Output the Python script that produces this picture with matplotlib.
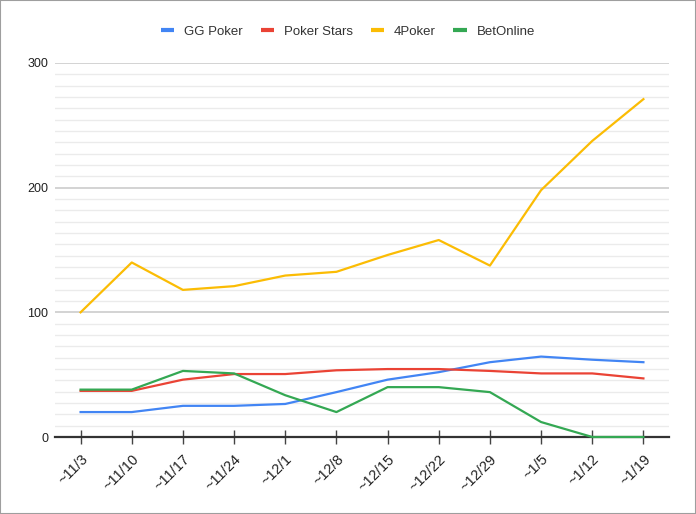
import matplotlib.pyplot as plt
from matplotlib.patches import Rectangle

weeks = ["~11/3", "~11/10", "~11/17", "~11/24", "~12/1", "~12/8",
         "~12/15", "~12/22", "~12/29", "~1/5", "~1/12", "~1/19"]
gg_poker = [20, 20, 25, 25, 26.5, 36, 46, 52, 60, 64.5, 62, 60]
poker_stars = [37, 37, 46, 50.5, 50.5, 53.5, 54.5, 54.5, 53, 51, 51, 47]
four_poker = [100, 140, 118, 121, 129.5, 132.5, 146, 158, 137.5, 198, 237.5, 271]
bet_online = [38, 38, 53, 51, 33.5, 20, 40, 40, 36, 12, 0, 0]

series = [
    ("GG Poker", gg_poker, "#4285F4"),
    ("Poker Stars", poker_stars, "#EA4335"),
    ("4Poker", four_poker, "#FBBC04"),
    ("BetOnline", bet_online, "#34A853"),
]

plt.rcParams["font.family"] = ["Liberation Sans", "DejaVu Sans"]

fig = plt.figure(figsize=(6.96, 5.14), dpi=100)
ax = fig.add_axes([55 / 696, (514 - 437) / 514, 614 / 696, 374 / 514])

x = list(range(len(weeks)))
for name, values, color in series:
    ax.plot(x, values, color=color, lw=1.6, label=name, zorder=3,
            clip_on=False)

ax.set_xlim(-0.5, len(weeks) - 0.5)
ax.set_ylim(0, 300)

# gridlines: majors every 100, 10 minor lines in between
ax.set_yticks([0, 100, 200, 300])
ax.set_yticks([m * 100 / 11 + k * 100 for k in range(3) for m in range(1, 11)],
              minor=True)
ax.grid(axis="y", which="major", color="#cccccc", lw=1.2, zorder=1)
ax.grid(axis="y", which="minor", color="#ebebeb", lw=1.0, zorder=1)
ax.tick_params(axis="y", which="both", length=0, labelsize=9, pad=5,
               labelcolor="#222222")

ax.set_xticks(x)
ax.set_xticklabels(weeks, rotation=45, ha="right", va="top",
                   rotation_mode="anchor", fontsize=10.5, color="#222222")
ax.tick_params(axis="x", direction="inout", length=10, width=1,
               color="#444444", pad=6)

for side in ["top", "right", "left"]:
    ax.spines[side].set_visible(False)
ax.spines["bottom"].set_color("#333333")
ax.spines["bottom"].set_linewidth(1.6)
ax.spines["bottom"].set_zorder(2.5)

leg = fig.legend(loc="center", bbox_to_anchor=(348 / 696, 1 - 32 / 514),
                 ncol=4, frameon=False, fontsize=9.5, handlelength=1.0,
                 handletextpad=0.75, columnspacing=1.35, labelcolor="#333333")
for line in leg.get_lines():
    line.set_linewidth(3)
    line.set_solid_capstyle("butt")

fig.patches.append(Rectangle((0, 0), 1, 1, transform=fig.transFigure,
                             fill=False, edgecolor="#9e9e9e", lw=1.5))

fig.savefig("out.png", dpi=100)
